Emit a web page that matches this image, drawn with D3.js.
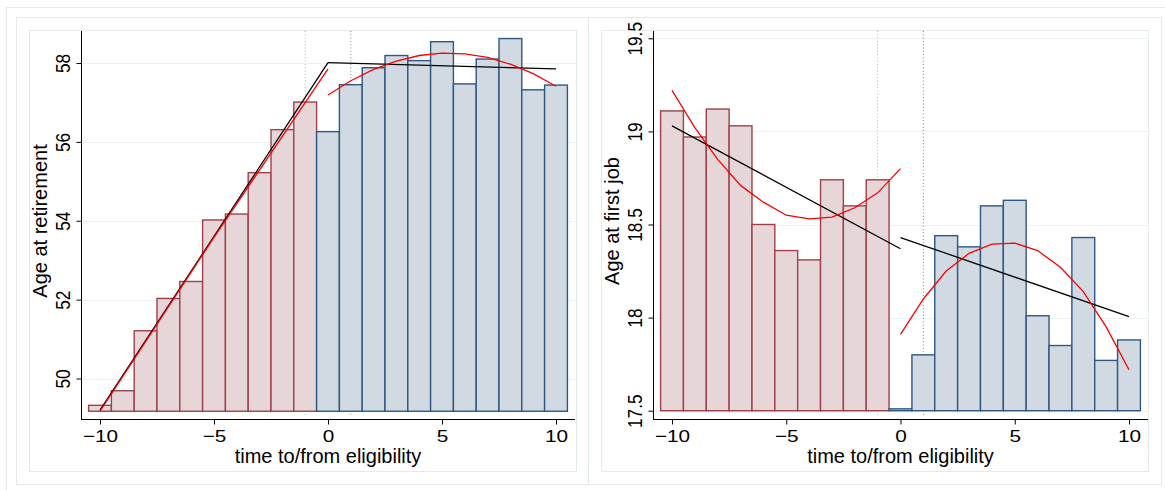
<!DOCTYPE html>
<html>
<head>
<meta charset="utf-8">
<script src="https://cdn.jsdelivr.net/npm/d3@7"></script>
<style>
  html, body { margin: 0; padding: 0; background: #fff; }
  svg { display: block; }
  text { font-family: "Liberation Sans", Arial, sans-serif; fill: #000; }
</style>
</head>
<body>
<svg id="chart" width="1165" height="490"></svg>
<script>
// ---- data ----
var years = [-10, -9, -8, -7, -6, -5, -4, -3, -2, -1, 0, 1, 2, 3, 4, 5, 6, 7, 8, 9, 10];

var retireAge   = [49.32, 49.69, 51.21, 52.03, 52.46, 54.02, 54.17, 55.22, 56.31, 57.01,
                   56.26, 57.45, 57.88, 58.19, 58.06, 58.54, 57.47, 58.10, 58.62, 57.32, 57.44];
var firstJobAge = [19.11, 18.97, 19.12, 19.03, 18.50, 18.36, 18.31, 18.74, 18.60, 18.74,
                   17.51, 17.80, 18.44, 18.38, 18.60, 18.63, 18.01, 17.85, 18.43, 17.77, 17.88];

var retireTicks   = [50, 52, 54, 56, 58];
var firstJobTicks = [17.5, 18, 18.5, 19, 19.5];
var xTicks        = [-10, -5, 0, 5, 10];
var cutoffLines   = [-1, 1];

// fitted lines: linear (black) and quadratic (red), before / after eligibility
var retireLinPreX  = [-10, 0],  retireLinPreY  = [49.2, 58.01];
var retireLinPostX = [0, 10],   retireLinPostY = [58.01, 57.85];
var retireQuadPreX = [-10, -5, 0], retireQuadPreY = [49.17, 53.58, 57.85];
var retireQuadPostX = [0, 1, 2, 3, 4, 5, 6, 7, 8, 9, 10];
var retireQuadPostY = [57.19, 57.55, 57.84, 58.05, 58.19, 58.25, 58.23, 58.14, 57.97, 57.73, 57.41];

var jobLinPreX  = [-10, 0], jobLinPreY  = [19.03, 18.37];
var jobLinPostX = [0, 10],  jobLinPostY = [18.43, 18.005];
var jobQuadPreX = [-10, -9, -8, -7, -6, -5, -4, -3, -2, -1, 0];
var jobQuadPreY = [19.22, 19.02, 18.85, 18.71, 18.62, 18.55, 18.53, 18.54, 18.59, 18.67, 18.80];
var jobQuadPostX = [0, 1, 2, 3, 4, 5, 6, 7, 8, 9, 10];
var jobQuadPostY = [17.91, 18.10, 18.25, 18.345, 18.395, 18.40, 18.36, 18.27, 18.14, 17.95, 17.72];

// ---- drawing ----
var svg = d3.select('#chart');
var BORDER = '#e3eaec', GRID = '#eaf2f3';

function rect(x0, y0, x1, y1) {
  svg.append('rect')
    .attr('x', x0).attr('y', y0)
    .attr('width', x1 - x0).attr('height', y1 - y0)
    .attr('fill', 'none').attr('stroke', BORDER).attr('stroke-width', 1);
}

// outer frame of the combined graph, then each sub-graph
rect(6.5, 7.5, 1180, 500);
rect(16.5, 17.5, 588.5, 484.5);
rect(588.5, 17.5, 1161.5, 484.5);
rect(29.5, 30.5, 576.5, 471.5);
rect(601.5, 30.5, 1148.5, 471.5);

function zip(xa, ya) { return xa.map(function (v, i) { return [v, ya[i]]; }); }

function drawPanel(o) {
  var top = 31, axisY = 419, barBottom = 411;
  var x = d3.scaleLinear().domain([-10, 10]).range([o.left + 19, o.right - 19]);
  var y = d3.scaleLinear().domain(o.yRef).range(o.yPix);
  var g = svg.append('g');

  // grid
  g.selectAll('.grid').data(o.ticks).join('line')
    .attr('x1', o.left).attr('x2', o.right + 1)
    .attr('y1', function (d) { return Math.round(y(d)) + 0.5; })
    .attr('y2', function (d) { return Math.round(y(d)) + 0.5; })
    .attr('stroke', GRID).attr('stroke-width', 1);

  // eligibility window
  g.selectAll('.cut').data(cutoffLines).join('line')
    .attr('x1', function (d) { return x(d); }).attr('x2', function (d) { return x(d); })
    .attr('y1', top).attr('y2', axisY - 2)
    .attr('stroke', function (d) { return d < 0 ? '#b4b4b4' : '#808080'; })
    .attr('stroke-width', 1)
    .attr('stroke-dasharray', '1 2.3');

  // bars
  var base = o.base;
  g.selectAll('.bar').data(years).join('rect')
    .attr('x', function (d) { return x(d - 0.5); })
    .attr('width', function (d) { return x(d + 0.5) - x(d - 0.5); })
    .attr('y', function (d, i) { return y(o.values[i]); })
    .attr('height', function (d, i) { return y(base) - y(o.values[i]); })
    .attr('fill', function (d) { return d < 0 ? '#e7d6d8' : '#d1dae3'; })
    .attr('stroke', function (d) { return d < 0 ? '#9e404b' : '#2f5780'; })
    .attr('stroke-width', 1.4);

  // fits
  var line = d3.line().x(function (d) { return x(d[0]); }).y(function (d) { return y(d[1]); });
  o.lin.forEach(function (pts) {
    g.append('path').attr('d', line(pts)).attr('fill', 'none')
      .attr('stroke', '#000').attr('stroke-width', 1.3);
  });
  o.quad.forEach(function (pts) {
    g.append('path').attr('d', line(pts)).attr('fill', 'none')
      .attr('stroke', '#ff0000').attr('stroke-width', 1.3);
  });

  // axis lines
  g.append('line').attr('x1', o.left + 0.5).attr('x2', o.left + 0.5)
    .attr('y1', top).attr('y2', axisY + 0.5).attr('stroke', '#000');
  g.append('line').attr('x1', o.left).attr('x2', o.right)
    .attr('y1', axisY + 0.5).attr('y2', axisY + 0.5).attr('stroke', '#000');

  // x axis
  var xa = g.append('g').attr('transform', 'translate(0,' + (axisY + 0.5) + ')')
    .call(d3.axisBottom(x).tickValues(xTicks).tickSize(5).tickSizeOuter(0).tickFormat(d3.format('d')));
  xa.select('.domain').remove();
  xa.selectAll('.tick line').attr('stroke', '#000');
  xa.selectAll('.tick text')
    .attr('y', null).attr('dy', null)
    .attr('transform', 'translate(0,22) scale(1.2,1)')
    .attr('font-size', 17.3).attr('font-family', '"Liberation Sans", Arial, sans-serif');

  // y axis
  var ya = g.append('g').attr('transform', 'translate(' + (o.left + 0.5) + ',0)')
    .call(d3.axisLeft(y).tickValues(o.ticks).tickSize(5).tickSizeOuter(0).tickFormat(d3.format('~f')));
  ya.select('.domain').remove();
  ya.selectAll('.tick line').attr('stroke', '#000');
  ya.selectAll('.tick text')
    .attr('x', null).attr('dy', null)
    .attr('text-anchor', 'middle')
    .attr('transform', 'translate(-12,0) scale(1.2,1) rotate(-90)')
    .attr('font-size', 17.3).attr('font-family', '"Liberation Sans", Arial, sans-serif');

  // titles
  g.append('text')
    .attr('x', (o.left + o.right) / 2).attr('y', 462.5)
    .attr('text-anchor', 'middle').attr('font-size', 20)
    .text('time to/from eligibility');
  g.append('text')
    .attr('transform', 'translate(' + (o.left - 34) + ',' + ((top + barBottom) / 2) + ') rotate(-90)')
    .attr('text-anchor', 'middle').attr('font-size', 20)
    .text(o.title);
}

drawPanel({
  left: 81, right: 575,
  yRef: [50, 58], yPix: [378.5, 63],
  base: 49.17,
  ticks: retireTicks,
  values: retireAge,
  title: 'Age at retirement',
  lin: [zip(retireLinPreX, retireLinPreY), zip(retireLinPostX, retireLinPostY)],
  quad: [zip(retireQuadPreX, retireQuadPreY), zip(retireQuadPostX, retireQuadPostY)]
});

drawPanel({
  left: 653, right: 1148,
  yRef: [17.5, 19.5], yPix: [410.7, 38.3],
  base: 17.5,
  ticks: firstJobTicks,
  values: firstJobAge,
  title: 'Age at first job',
  lin: [zip(jobLinPreX, jobLinPreY), zip(jobLinPostX, jobLinPostY)],
  quad: [zip(jobQuadPreX, jobQuadPreY), zip(jobQuadPostX, jobQuadPostY)]
});
</script>
</body>
</html>
